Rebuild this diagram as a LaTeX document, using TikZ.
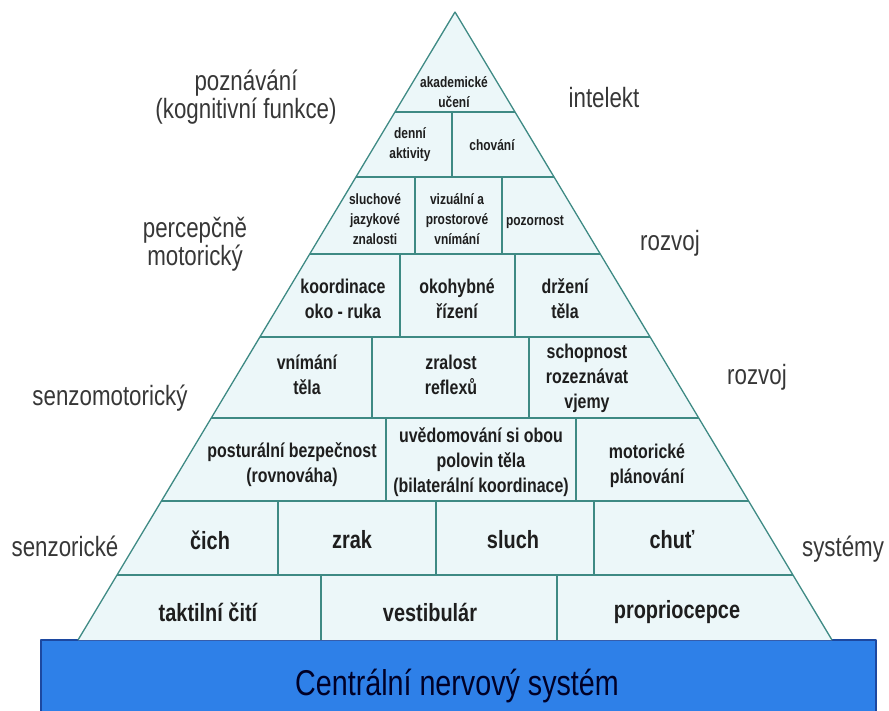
\documentclass[tikz,border=0pt]{standalone}
\usepackage{fontspec}
\setmainfont{Liberation Sans}
\newfontfamily\cellfont{Liberation Sans Bold}[FakeStretch=0.8]
\newfontfamily\sidefont{Liberation Sans}[FakeStretch=0.8]
\definecolor{edgeteal}{RGB}{62,138,132}
\definecolor{cellfill}{RGB}{236,247,249}
\definecolor{cnsblue}{RGB}{46,128,232}
\definecolor{cnsrim}{RGB}{28,72,160}
\definecolor{inkdark}{RGB}{30,30,30}
\definecolor{inkgrey}{RGB}{55,55,55}
\tikzset{
  cellS/.style={align=center,inner sep=0pt,text=inkdark,font=\cellfont\fontsize{15}{20}\selectfont},
  cellM/.style={align=center,inner sep=0pt,text=inkdark,font=\cellfont\fontsize{20}{25}\selectfont},
  cellL/.style={align=center,inner sep=0pt,text=inkdark,font=\cellfont\fontsize{25}{30}\selectfont},
  side/.style={align=center,inner sep=0pt,text=inkgrey,font=\sidefont\fontsize{28}{28}\selectfont},
}
\begin{document}
\begin{tikzpicture}[x=1bp,y=-1bp,line join=bevel]
\useasboundingbox (0,0) rectangle (889,711);
%% base block
\draw [cnsrim,fill=cnsblue,line width=1.5bp] (41,640) rectangle (876,715);
\node (cns) at (457,686) [align=center,text=black!85!blue,font=\sidefont\fontsize{36}{36}\selectfont] {Centrální nervový systém};
%% pyramid
\coordinate (apex) at (455,12);
\coordinate (baseL) at (78,640);
\coordinate (baseR) at (832,640);
\fill [cellfill] (apex) -- (baseL) -- (baseR) -- cycle;
\begin{scope}
  \clip (apex) -- (baseL) -- (baseR) -- cycle;
  \foreach \y in {112,177,254,337,418,501,575}
    \draw [edgeteal,line width=2.2bp] (0,\y) -- (889,\y);
  \foreach \x/\ya/\yb in {452/112/177, 415/177/254, 502/177/254,
      400/254/337, 515/254/337, 372/337/418, 529/337/418,
      386/418/501, 576/418/501, 278/501/575, 436/501/575, 594/501/575,
      321/575/640, 557/575/640}
    \draw [edgeteal,line width=1.8bp] (\x,\ya) -- (\x,\yb);
\end{scope}
\draw [edgeteal,line width=1.3bp] (baseL) -- (apex) -- (baseR);
%% cells
\node (akademicke) at (454,92) [cellS] {akademické\\učení};
\node (denni) at (410,145) [cellS] {denní\\aktivity};
\node (chovani) at (492,145) [cellS] {chování};
\node (sluchove) at (375,219) [cellS] {sluchové\\jazykové\\znalosti};
\node (vizualni) at (457,219) [cellS] {vizuální a\\prostorové\\vnímání};
\node (pozornost) at (535,222) [cellS] {pozornost};
\node (koordinace) at (343,299) [cellM] {koordinace\\oko - ruka};
\node (okohybne) at (457,299) [cellM] {okohybné\\řízení};
\node (drzeni) at (565,299) [cellM] {držení\\těla};
\node (vnimani) at (307,375) [cellM] {vnímání\\těla};
\node (zralost) at (451,375) [cellM] {zralost\\reflexů};
\node (schopnost) at (587,378) [cellM] {schopnost\\rozeznávat\\vjemy};
\node (posturalni) at (292,465) [cellM] {posturální bezpečnost\\(rovnováha)};
\node (uvedomovani) at (481,462) [cellM] {uvědomování si obou\\polovin těla\\(bilaterální koordinace)};
\node (motoricke) at (647,466) [cellM] {motorické\\plánování};
\node (cich) at (210,540) [cellL] {čich};
\node (zrak) at (352,540) [cellL] {zrak};
\node (sluch) at (513,540) [cellL] {sluch};
\node (chut) at (672,540) [cellL] {chuť};
\node (taktilni) at (208,612) [cellL] {taktilní čití};
\node (vestibular) at (430,612) [cellL] {vestibulár};
\node (propriocepce) at (677,612) [cellL] {propriocepce};
%% side labels
\node (poznavani) at (246,97) [side] {poznávání\\(kognitivní funkce)};
\node (intelekt) at (604,98) [side] {intelekt};
\node (percepcne) at (195,244) [side] {percepčně\\motorický};
\node (rozvojA) at (670,243) [side] {rozvoj};
\node (senzomotoricky) at (110,398) [side] {senzomotorický};
\node (rozvojB) at (757,377) [side] {rozvoj};
\node (senzoricke) at (65,546) [side] {senzorické};
\node (systemy) at (843,549) [side] {systémy};
%
\end{tikzpicture}
\end{document}
